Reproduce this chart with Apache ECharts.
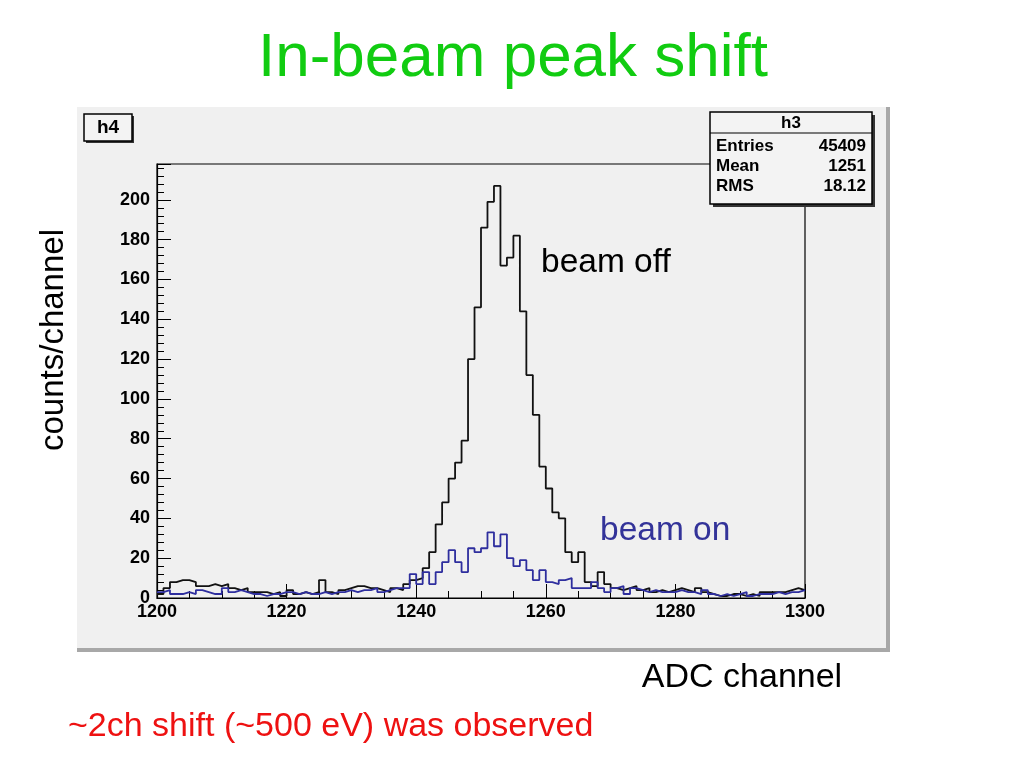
<!DOCTYPE html>
<html>
<head>
<meta charset="utf-8">
<script src="https://cdn.jsdelivr.net/npm/echarts@6/dist/echarts.min.js"></script>
<style>
html,body{margin:0;padding:0;background:#fff;}
#c{width:1024px;height:768px;}
</style>
</head>
<body>
<div id="c"></div>
<script>
// ---- data (1-channel bins starting at binStart) ----
const binStart = 1200;
const binEnd = 1300;
const beamOff = [
  2, 5, 8, 9, 9, 8, 6, 6, 7, 6,
  7, 5, 4, 5, 3, 3, 3, 2, 3, 1,
  4, 2, 3, 2, 3, 9, 3, 2, 4, 5,
  6, 6, 5, 5, 4, 3, 5, 4, 7, 9,
  10, 15, 23, 37, 48, 60, 68, 79, 120, 146,
  186, 199, 207, 167, 171, 182, 144, 112, 92, 66,
  55, 43, 40, 23, 18, 23, 8, 6, 13, 7,
  5, 4, 5, 6, 4, 5, 3, 4, 3, 4,
  5, 4, 3, 5, 3, 2, 1, 1, 2, 2,
  1, 2, 1, 3, 3, 3, 3, 4, 5, 4
];
const beamOn = [
  3, 4, 2, 2, 3, 2, 4, 3, 2, 2,
  5, 3, 4, 3, 2, 2, 1, 2, 2, 3,
  3, 2, 3, 2, 2, 3, 2, 3, 3, 4,
  3, 4, 4, 5, 3, 4, 5, 5, 5, 12,
  7, 13, 7, 13, 18, 24, 18, 13, 25, 23,
  25, 33, 26, 32, 20, 16, 19, 14, 9, 14,
  8, 7, 9, 10, 5, 5, 5, 8, 5, 3,
  5, 6, 2, 5, 4, 3, 4, 3, 3, 3,
  4, 3, 3, 2, 4, 2, 1, 2, 1, 2,
  3, 1, 2, 2, 2, 3, 2, 3, 3, 4
];
const statsLabels = ['Entries', 'Mean', 'RMS'];
const statsValues = ['45409', '1251', '18.12'];

function toSteps(vals) {
  const pts = vals.map((v, i) => [binStart + i, v]);
  pts.push([binEnd, vals[vals.length - 1]]);
  return pts;
}

const FONT = '"Liberation Sans", Arial, Helvetica, sans-serif';
const chart = echarts.init(document.getElementById('c'), null, {renderer: 'canvas'});

const axisCommon = {
  axisLine: {show: true, lineStyle: {color: '#000', width: 1.2}},
  axisTick: {show: true, inside: true, length: 14, lineStyle: {color: '#000', width: 1}},
  minorTick: {show: true, length: 7, lineStyle: {color: '#000', width: 1}},
  splitLine: {show: false},
  axisLabel: {color: '#000', fontFamily: FONT, fontWeight: 'bold', fontSize: 18}
};

const statsGraphics = [];
const bx = 710, by = 112, bw = 162, bh = 92;
statsGraphics.push({type: 'rect', shape: {x: bx + 3, y: by + 3, width: bw, height: bh}, style: {fill: '#333'}, z: 100});
statsGraphics.push({type: 'rect', shape: {x: bx, y: by, width: bw, height: bh}, style: {fill: '#f3f3f3', stroke: '#000', lineWidth: 1.5}, z: 101});
statsGraphics.push({type: 'line', shape: {x1: bx, y1: by + 21, x2: bx + bw, y2: by + 21}, style: {stroke: '#000', lineWidth: 1.2}, z: 102});
statsGraphics.push({type: 'text', x: bx + bw / 2, y: by + 11, style: {text: 'h3', font: 'bold 17px ' + FONT, fill: '#000', textAlign: 'center', textVerticalAlign: 'middle'}, z: 102});
statsLabels.forEach((lab, i) => {
  const yy = by + 34 + i * 20;
  statsGraphics.push({type: 'text', x: bx + 6, y: yy, style: {text: lab, font: 'bold 17px ' + FONT, fill: '#000', textAlign: 'left', textVerticalAlign: 'middle'}, z: 102});
  statsGraphics.push({type: 'text', x: bx + bw - 6, y: yy, style: {text: statsValues[i], font: 'bold 17px ' + FONT, fill: '#000', textAlign: 'right', textVerticalAlign: 'middle'}, z: 102});
});

const option = {
  animation: false,
  backgroundColor: '#fff',
  grid: {left: 157, right: 219, top: 164, bottom: 170, show: true, borderColor: '#000', borderWidth: 1.2, backgroundColor: 'transparent', containLabel: false},
  xAxis: Object.assign({}, axisCommon, {
    type: 'value', min: 1200, max: 1300, interval: 20,
    minorTick: Object.assign({}, axisCommon.minorTick, {splitNumber: 4}),
    axisLabel: Object.assign({}, axisCommon.axisLabel, {margin: 5, formatter: v => String(v)})
  }),
  yAxis: Object.assign({}, axisCommon, {
    type: 'value', min: 0, max: 218, interval: 20,
    minorTick: Object.assign({}, axisCommon.minorTick, {splitNumber: 5}),
    axisLabel: Object.assign({}, axisCommon.axisLabel, {margin: 7, showMaxLabel: false,
      formatter: v => (v % 20 === 0 && v <= 200) ? String(v) : ''})
  }),
  series: [
    {name: 'beam off', type: 'line', step: 'end', data: toSteps(beamOff), symbol: 'none',
     lineStyle: {color: '#111', width: 1.8}, z: 3},
    {name: 'beam on', type: 'line', step: 'end', data: toSteps(beamOn), symbol: 'none',
     lineStyle: {color: '#2e2e9e', width: 1.8}, z: 4}
  ],
  graphic: [
    // canvas panel
    {type: 'rect', shape: {x: 77, y: 105, width: 813, height: 547}, style: {fill: '#f0f0f0'}, z: -10},
    {type: 'rect', shape: {x: 886, y: 105, width: 4, height: 547}, style: {fill: '#a8a8a8'}, z: -9},
    {type: 'rect', shape: {x: 77, y: 648, width: 813, height: 4}, style: {fill: '#a8a8a8'}, z: -9},
    {type: 'rect', shape: {x: 77, y: 105, width: 813, height: 2}, style: {fill: '#ffffff'}, z: -9},
    // h4 label box
    {type: 'rect', shape: {x: 86, y: 116, width: 48, height: 27}, style: {fill: '#333'}, z: 100},
    {type: 'rect', shape: {x: 84, y: 114, width: 48, height: 27}, style: {fill: '#f3f3f3', stroke: '#000', lineWidth: 1.5}, z: 101},
    {type: 'text', x: 108, y: 128, style: {text: 'h4', font: 'bold 19px ' + FONT, fill: '#000', textAlign: 'center', textVerticalAlign: 'middle'}, z: 102},
    // texts
    {type: 'text', x: 513, y: 59, style: {text: 'In-beam peak shift', font: '62px ' + FONT, fill: '#11cc11', textAlign: 'center', textVerticalAlign: 'middle'}, z: 50},
    {type: 'text', x: 54, y: 340, rotation: Math.PI / 2, style: {text: 'counts/channel', font: '33px ' + FONT, fill: '#000', textAlign: 'center', textVerticalAlign: 'middle'}, z: 50},
    {type: 'text', x: 742, y: 678, style: {text: 'ADC channel', font: '34px ' + FONT, fill: '#000', textAlign: 'center', textVerticalAlign: 'middle'}, z: 50},
    {type: 'text', x: 541, y: 263, style: {text: 'beam off', font: '33.5px ' + FONT, fill: '#000', textAlign: 'left', textVerticalAlign: 'middle'}, z: 50},
    {type: 'text', x: 600, y: 531, style: {text: 'beam on', font: '33.5px ' + FONT, fill: '#333399', textAlign: 'left', textVerticalAlign: 'middle'}, z: 50},
    {type: 'text', x: 68, y: 727, style: {text: '~2ch shift (~500 eV) was observed', font: '34px ' + FONT, fill: '#ee1111', textAlign: 'left', textVerticalAlign: 'middle'}, z: 50}
  ].concat(statsGraphics)
};
chart.setOption(option);
</script>
</body>
</html>
